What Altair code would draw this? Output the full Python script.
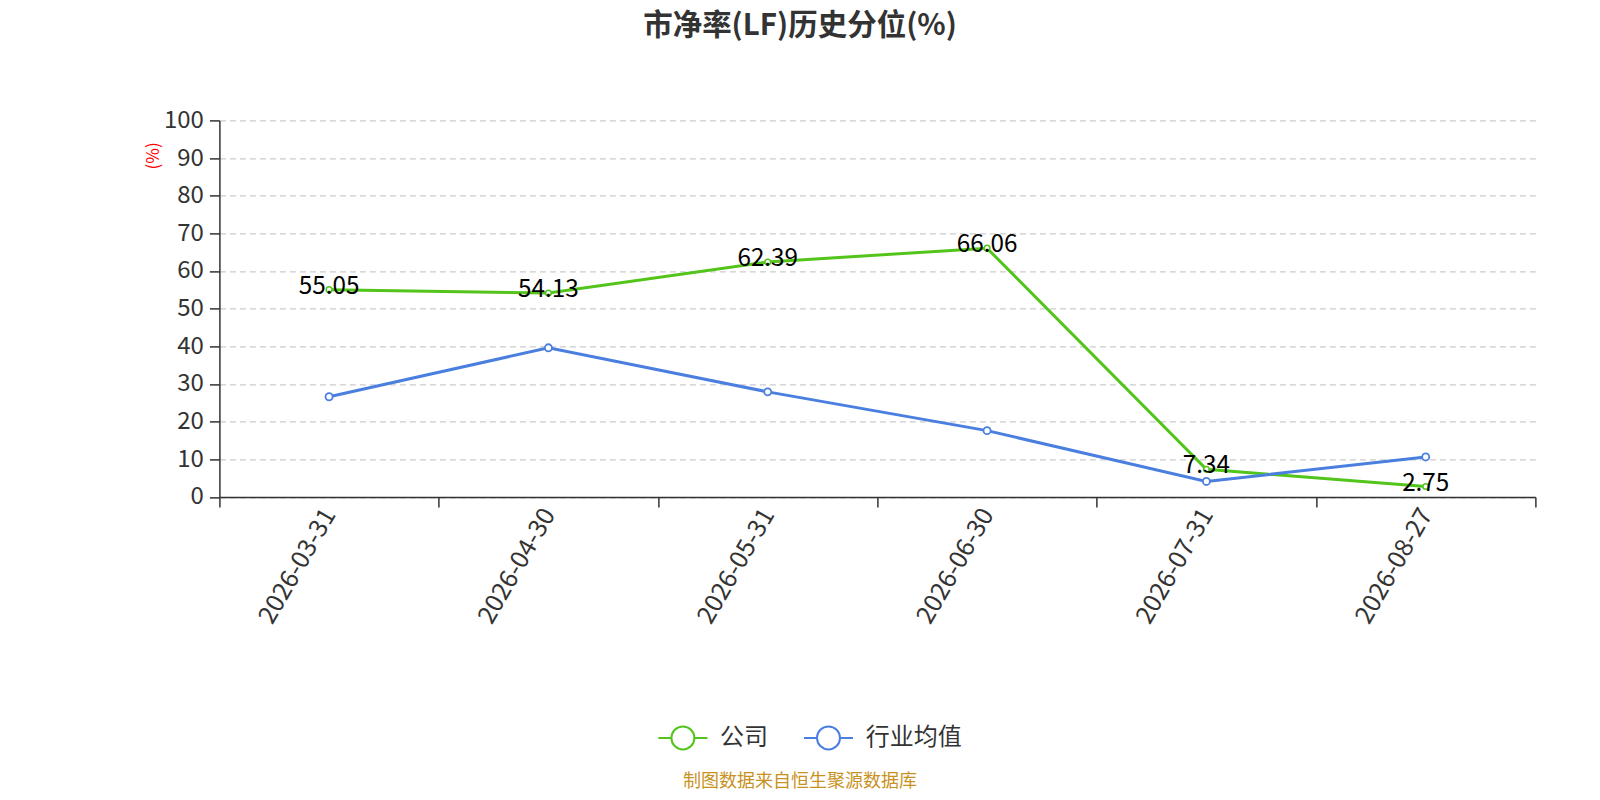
import altair as alt
import pandas as pd

dates = ["2026-03-31", "2026-04-30", "2026-05-31", "2026-06-30", "2026-07-31", "2026-08-27"]
company = [55.05, 54.13, 62.39, 66.06, 7.34, 2.75]
industry = [26.6, 39.6, 27.9, 17.6, 4.1, 10.6]
series_names = ["公司", "行业均值"]
colors = ["#52c41a", "#4a7fe0"]
title_text = "市净率(LF)历史分位(%)"
source_text = "制图数据来自恒生聚源数据库"

rows = []
for d, c in zip(dates, company):
    rows.append({"date": d, "value": c, "series": series_names[0]})
for d, v in zip(dates, industry):
    rows.append({"date": d, "value": v, "series": series_names[1]})
df = pd.DataFrame(rows)

FONT = "Noto Sans CJK SC"
color_scale = alt.Scale(domain=series_names, range=colors)

x_enc = alt.X(
    "date:N",
    sort=dates,
    bandPosition=0.5,
    scale=alt.Scale(type="band", paddingInner=0, paddingOuter=0),
    axis=alt.Axis(
        title=None,
        labelAngle=-60,
        labelAlign="right",
        labelBaseline="middle",
        labelFontSize=25,
        labelColor="#333333",
        labelPadding=3,
        tickBand="extent",
        tickSize=10,
        tickColor="#333333",
        tickWidth=1.5,
        domainColor="#333333",
        domainWidth=1.5,
        grid=False,
    ),
)
y_enc = alt.Y(
    "value:Q",
    scale=alt.Scale(domain=[0, 100]),
    axis=alt.Axis(
        values=list(range(0, 101, 10)),
        title="(%)",
        titleColor="red",
        titleFontSize=17,
        titleFontWeight="normal",
        titleAngle=270,
        titleX=-66,
        titleY=35,
        titleAlign="center",
        titleBaseline="middle",
        labelFontSize=24,
        labelColor="#333333",
        labelPadding=6,
        tickSize=10,
        tickColor="#333333",
        tickWidth=1.5,
        domainColor="#333333",
        domainWidth=1.5,
        grid=True,
        gridColor="#cccccc",
        gridDash=[6, 4],
        gridWidth=1.2,
    ),
)

legend_symbol = "M-1.6,0L-0.75,0M0.75,0L1.6,0M0.75,0A0.75,0.75,0,1,1,-0.75,0A0.75,0.75,0,1,1,0.75,0Z"

base = alt.Chart(df)

lines = base.mark_line(strokeWidth=3).encode(
    x=x_enc,
    y=y_enc,
    color=alt.Color(
        "series:N",
        scale=color_scale,
        sort=series_names,
        legend=alt.Legend(
            title=None,
            orient="none",
            legendX=447,
            legendY=601,
            direction="horizontal",
            symbolType=legend_symbol,
            symbolSize=940,
            symbolStrokeWidth=2,
            symbolFillColor="white",
            labelFontSize=24,
            labelColor="#333333",
            labelOffset=20.7,
            columnPadding=30.6,
        ),
    ),
)

points_company = base.transform_filter(alt.datum.series == series_names[0]).mark_circle(
    fill="white", fillOpacity=1, opacity=1, strokeWidth=1.5, size=32
).encode(
    x=x_enc,
    y=y_enc,
    stroke=alt.Stroke("series:N", scale=color_scale, legend=None),
)

points_industry = base.transform_filter(alt.datum.series == series_names[1]).mark_circle(
    fill="white", fillOpacity=1, opacity=1, strokeWidth=1.8, size=50
).encode(
    x=x_enc,
    y=y_enc,
    stroke=alt.Stroke("series:N", scale=color_scale, legend=None),
)

labels = base.transform_filter(alt.datum.series == series_names[0]).mark_text(
    fontSize=24.3, color="#000000", dy=-3, font=FONT
).encode(
    x=x_enc,
    y=y_enc,
    text=alt.Text("value:Q", format=".2f"),
)

source = alt.Chart(pd.DataFrame({"t": [source_text]})).mark_text(
    fontSize=18, color="#c8921e", font=FONT
).encode(
    x=alt.value(580.6),
    y=alt.value(662),
    text="t:N",
)

chart = (
    alt.layer(lines, points_company, points_industry, labels, source)
    .properties(
        width=1316,
        height=376.5,
        autosize=alt.AutoSizeParams(type="none"),
        padding={"left": 211.4, "top": 112.4, "right": 50, "bottom": 295},
        view=alt.ViewBackground(stroke="transparent", strokeWidth=0),
        title=alt.TitleParams(
            text=title_text,
            fontSize=29.5,
            fontWeight="bold",
            color="#333333",
            anchor="middle",
            dx=-77.4,
            offset=67,
            font=FONT,
        ),
        background="white",
    )
    .configure_view(stroke="transparent", strokeWidth=0)
    .configure(font=FONT)
)

chart.save("out.html", embed_options={"renderer": "svg", "actions": False})
